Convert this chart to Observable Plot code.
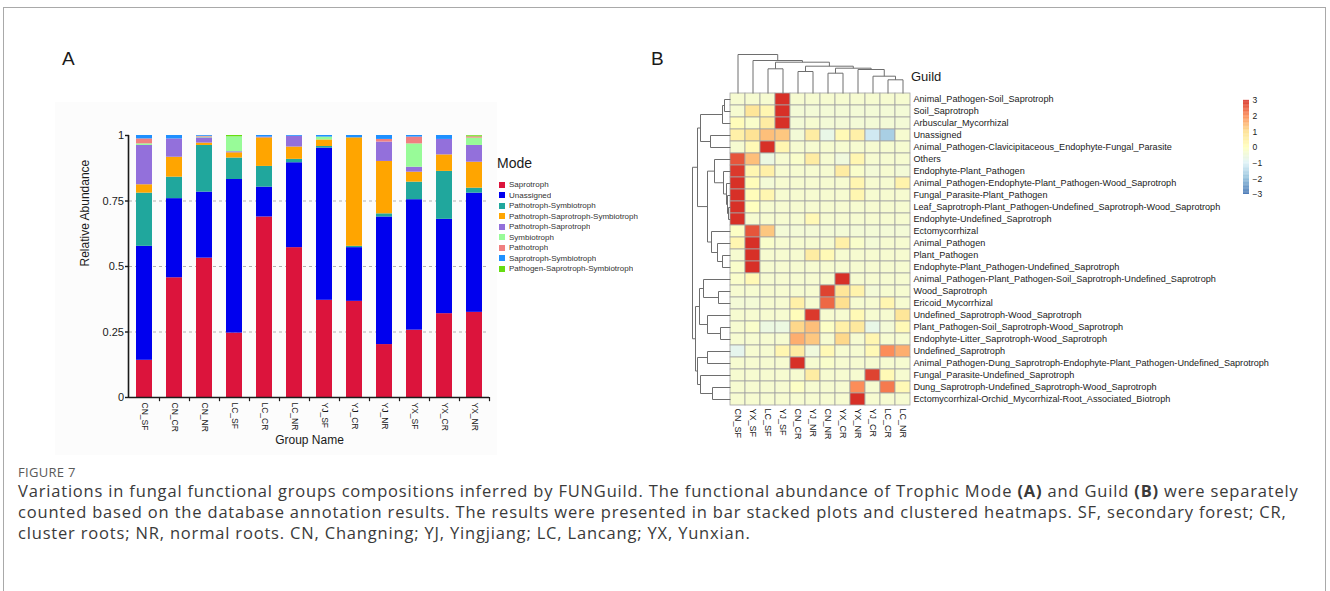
<!DOCTYPE html>
<html>
<head>
<meta charset="utf-8">
<script src="https://cdn.jsdelivr.net/npm/d3@7"></script>
<script src="https://cdn.jsdelivr.net/npm/@observablehq/plot@0.6"></script>
<style>
  body { margin: 0; background: #fff; }
  #root { position: relative; width: 1330px; height: 591px; overflow: hidden; font-family: "Liberation Sans", Arial, sans-serif; color: #1a1a1a; }
  .abs { position: absolute; }
  .box { left: 3px; top: 7px; width: 1323px; height: 700px; border: 1px solid #a9a9a9; box-sizing: border-box; }
  .panel { font-size: 19px; line-height: 1; }
  .figlabel { left: 18px; top: 463px; font-family: "Open Sans", sans-serif; font-size: 13px; color: #5a5a5a; letter-spacing: 0.3px; }
  .caption { left: 18px; top: 480px; width: 1310px; font-family: "Open Sans", sans-serif; font-size: 16.5px; letter-spacing: 0.82px; line-height: 21px; color: #3a3a3a; white-space: nowrap; }
</style>
</head>
<body>
<div id="root">
  <div class="abs box"></div>
  <div class="abs panel" style="left:62px;top:49px;">A</div>
  <div class="abs panel" style="left:651px;top:49px;">B</div>
  <div class="abs" style="left:497px;top:155px;font-size:14px;">Mode</div>
  <div class="abs" style="left:911px;top:69px;font-size:13px;">Guild</div>
  <div class="abs figlabel">FIGURE 7</div>
  <div class="abs caption">Variations in fungal functional groups compositions inferred by FUNGuild. The functional abundance of Trophic Mode <b>(A)</b> and Guild <b>(B)</b> were separately<br>counted based on the database annotation results. The results were presented in bar stacked plots and clustered heatmaps. SF, secondary forest; CR,<br>cluster roots; NR, normal roots. CN, Changning; YJ, Yingjiang; LC, Lancang; YX, Yunxian.</div>
</div>
<script>
// ---------------- Panel A data ----------------
const groups = ["CN_SF","CN_CR","CN_NR","LC_SF","LC_CR","LC_NR","YJ_SF","YJ_CR","YJ_NR","YX_SF","YX_CR","YX_NR"];
const modes = ["Saprotroph","Unassigned","Pathotroph-Symbiotroph","Pathotroph-Saprotroph-Symbiotroph","Pathotroph-Saprotroph","Symbiotroph","Pathotroph","Saprotroph-Symbiotroph","Pathogen-Saprotroph-Symbiotroph"];
const modeColors = ["#dc143c","#0000ee","#20a79d","#ffa500","#9370db","#98fb98","#f08080","#1e90ff","#66dd11"];
const saprotroph          = [0.142,0.457,0.532,0.246,0.689,0.572,0.371,0.367,0.202,0.257,0.320,0.325];
const unassigned          = [0.435,0.302,0.252,0.586,0.114,0.324,0.581,0.205,0.487,0.498,0.360,0.455];
const pathoSymbio         = [0.203,0.082,0.178,0.082,0.079,0.013,0.006,0.005,0.012,0.067,0.183,0.019];
const pathoSaproSymbio    = [0.032,0.076,0.009,0.020,0.109,0.047,0.025,0.414,0.200,0.038,0.063,0.099];
const pathoSapro          = [0.150,0.070,0.020,0.004,0.003,0.041,0.000,0.000,0.074,0.019,0.059,0.064];
const symbiotroph         = [0.006,0.000,0.003,0.057,0.000,0.000,0.011,0.000,0.000,0.089,0.000,0.028];
const pathotroph          = [0.019,0.000,0.003,0.000,0.000,0.000,0.000,0.000,0.010,0.026,0.000,0.005];
const saproSymbio         = [0.013,0.013,0.003,0.000,0.006,0.003,0.006,0.009,0.015,0.006,0.015,0.000];
const pathogenSaproSymbio = [0.000,0.000,0.000,0.005,0.000,0.000,0.000,0.000,0.000,0.000,0.000,0.004];
const yTicks = [0, 0.25, 0.5, 0.75, 1];

// ---------------- Panel B data ----------------
const sampleCols = ["CN_SF","YX_SF","LC_SF","YJ_SF","CN_CR","YJ_NR","CN_NR","YX_CR","YX_NR","YJ_CR","LC_CR","LC_NR"];
const guildRows = [
  "Animal_Pathogen-Soil_Saprotroph",
  "Soil_Saprotroph",
  "Arbuscular_Mycorrhizal",
  "Unassigned",
  "Animal_Pathogen-Clavicipitaceous_Endophyte-Fungal_Parasite",
  "Others",
  "Endophyte-Plant_Pathogen",
  "Animal_Pathogen-Endophyte-Plant_Pathogen-Wood_Saprotroph",
  "Fungal_Parasite-Plant_Pathogen",
  "Leaf_Saprotroph-Plant_Pathogen-Undefined_Saprotroph-Wood_Saprotroph",
  "Endophyte-Undefined_Saprotroph",
  "Ectomycorrhizal",
  "Animal_Pathogen",
  "Plant_Pathogen",
  "Endophyte-Plant_Pathogen-Undefined_Saprotroph",
  "Animal_Pathogen-Plant_Pathogen-Soil_Saprotroph-Undefined_Saprotroph",
  "Wood_Saprotroph",
  "Ericoid_Mycorrhizal",
  "Undefined_Saprotroph-Wood_Saprotroph",
  "Plant_Pathogen-Soil_Saprotroph-Wood_Saprotroph",
  "Endophyte-Litter_Saprotroph-Wood_Saprotroph",
  "Undefined_Saprotroph",
  "Animal_Pathogen-Dung_Saprotroph-Endophyte-Plant_Pathogen-Undefined_Saprotroph",
  "Fungal_Parasite-Undefined_Saprotroph",
  "Dung_Saprotroph-Undefined_Saprotroph-Wood_Saprotroph",
  "Ectomycorrhizal-Orchid_Mycorrhizal-Root_Associated_Biotroph"
];
// row z-scores, one row per guild, columns in sampleCols order
const zScores = [
  [-0.3,-0.3,-0.3, 3.2,-0.3,-0.3,-0.3,-0.3,-0.3,-0.3,-0.3,-0.3],
  [-0.3, 0.8, 0.3, 3.0,-0.4,-0.4,-0.4,-0.4,-0.4,-0.4,-0.4,-0.4],
  [ 0.1,-0.2, 0.6, 3.0,-0.4,-0.3,-0.4,-0.4,-0.4,-0.4,-0.4,-0.4],
  [ 0.5, 0.9, 1.4, 1.3,-0.4, 0.6,-0.7, 0.2, 0.5,-1.2,-1.7,-0.3],
  [-0.3, 0.2, 3.2, 0.3,-0.3,-0.3,-0.3,-0.3,-0.3,-0.3,-0.3,-0.3],
  [ 2.6, 1.4,-0.6,-0.3,-0.2, 0.6,-0.3,-0.5, 0.3,-0.3,-0.3,-0.3],
  [ 2.9, 0.3, 0.5,-0.3,-0.3,-0.3,-0.3, 0.6,-0.2,-0.4,-0.3,-0.4],
  [ 3.1, 0.1,-0.4,-0.3,-0.3,-0.3,-0.3,-0.3, 0.3,-0.3,-0.3, 0.4],
  [ 3.1, 0.1, 0.3,-0.3,-0.3,-0.3,-0.3,-0.3, 0.3,-0.3,-0.3,-0.3],
  [ 3.2, 0.0,-0.3,-0.3,-0.3,-0.3,-0.3,-0.3,-0.3,-0.3,-0.3,-0.3],
  [ 3.2,-0.3,-0.3,-0.3,-0.3, 0.2,-0.3,-0.3,-0.3,-0.3,-0.3,-0.3],
  [-0.1, 2.6, 1.3,-0.4,-0.4,-0.4,-0.4,-0.4,-0.4,-0.4,-0.4,-0.4],
  [ 0.3, 3.1,-0.2,-0.3,-0.3,-0.3,-0.3, 0.5,-0.2,-0.4,-0.3,-0.3],
  [-0.3, 3.0,-0.3,-0.3,-0.3, 0.6, 0.2,-0.3,-0.3,-0.3,-0.3,-0.3],
  [-0.2, 3.1,-0.3,-0.3,-0.3,-0.3,-0.3,-0.3,-0.3,-0.3,-0.3,-0.3],
  [-0.2, 0.2,-0.3,-0.3,-0.3,-0.3,-0.3, 3.2,-0.3,-0.3,-0.3,-0.3],
  [-0.3,-0.3,-0.3,-0.3,-0.3,-0.3, 2.8, 0.8, 0.4,-0.4,-0.3,-0.3],
  [-0.4,-0.4,-0.3,-0.3, 0.5,-0.3, 2.4, 1.0,-0.3,-0.3, 0.3,-0.3],
  [-0.3,-0.3,-0.3,-0.3, 0.1, 2.9,-0.3,-0.3, 0.2,-0.3,-0.3, 0.8],
  [-0.3,-0.2,-0.6,-0.6, 1.1, 1.4,-0.1, 0.5, 0.7,-0.7,-0.4, 0.2],
  [-0.3,-0.3,-0.3,-0.3, 1.6, 1.3,-0.3, 1.1,-0.3, 0.3,-0.3,-0.3],
  [-0.8,-0.3,-0.3, 0.3, 0.6,-0.5, 0.2,-0.3,-0.3, 0.2, 2.0, 1.6],
  [-0.3,-0.3,-0.3,-0.3, 3.2,-0.3,-0.2,-0.3,-0.3,-0.3,-0.3,-0.3],
  [-0.3,-0.3,-0.3,-0.3,-0.3, 0.6,-0.3,-0.3,-0.3, 2.8, 0.2,-0.3],
  [-0.3,-0.3,-0.3,-0.3,-0.1,-0.3,-0.3,-0.3, 2.0,-0.3, 2.2, 0.2],
  [-0.3,-0.3,-0.3,-0.3,-0.3,-0.3,-0.3,-0.3, 3.3,-0.3,-0.3,-0.3]
];
// hclust-style merges: negative = leaf (-(index+1)), positive = earlier merge (1-based)
const colMergeA = [-11, -10,  -7,  -9,   4, -5,  6,  -3, 8,  -2,  -1];
const colMergeB = [-12,   1,  -8,   2,   3, -6,  5,  -4, 7,   9,  10];
const colMergeH = [13.7, 17.3, 20.3, 24, 25.3, 22, 27.3, 24.7, 31.3, 33, 39];
const rowMergeA = [-1, 1, -4, 2, -10, -9, -8, -7, -6, -14, -13, -12,  9,  4, -17, -16, -20, -19, 16, -22, -25, -24, 20, 19, 14];
const rowMergeB = [-2,-3, -5, 3, -11,  5,  6,  7,  8, -15,  10,  11, 12, 13, -18,  15, -21,  17, 18, -23, -26,  21, 22, 23, 24];
const rowMergeH = [ 6, 8, 20,30,   2,  3,  4,  7, 16,   8,  13,  19, 23, 33,  12,  27,  10,  23, 31,  23,  18,  30, 33, 35, 38];
const heatColors = ["#4575b4","#91bfdb","#e0f3f8","#ffffbf","#fee090","#fc8d59","#d73027"];
const heatBreaks = [-3,-2,-1,0,1,2,3];

// ---------------- helpers ----------------
const font = "Liberation Sans, Arial, sans-serif";
function place(node, left, top) {
  node.style.position = "absolute";
  node.style.left = left + "px";
  node.style.top = top + "px";
  document.getElementById("root").appendChild(node);
}
function dendroSegments(A, B, H) {
  const pos = [], ht = [], segs = [];
  const get = (k) => k < 0 ? [-k - 1 + 0.5, 0] : [pos[k - 1], ht[k - 1]];
  A.forEach((a, i) => {
    const [pa, ha] = get(a), [pb, hb] = get(B[i]), h = H[i];
    segs.push({p1: pa, h1: ha, p2: pa, h2: h});
    segs.push({p1: pb, h1: hb, p2: pb, h2: h});
    segs.push({p1: pa, h1: h, p2: pb, h2: h});
    pos.push((pa + pb) / 2); ht.push(h);
  });
  return segs;
}
const minusFormat = (d) => d < 0 ? "\u2212" + (-d) : String(d);

// ---------------- Panel A ----------------
const modeSeries = [saprotroph, unassigned, pathoSymbio, pathoSaproSymbio, pathoSapro, symbiotroph, pathotroph, saproSymbio, pathogenSaproSymbio];
const barData = [];
groups.forEach((g, gi) => modes.forEach((m, mi) => barData.push({group: g, mode: m, value: modeSeries[mi][gi]})));

const plotA = Plot.plot({
  width: 442, height: 353,
  marginLeft: 74, marginRight: 8, marginTop: 33, marginBottom: 58,
  style: {background: "#fcfcfc", fontFamily: font, color: "#1a1a1a"},
  x: {domain: groups, paddingInner: 0.47, paddingOuter: 0.235, label: null},
  y: {domain: [0, 1], label: null},
  color: {domain: modes, range: modeColors},
  marks: [
    Plot.ruleY([0.25, 0.5, 0.75], {stroke: "#b0b0b0", strokeDasharray: "3,3", strokeWidth: 1}),
    Plot.barY(barData, {x: "group", y: "value", fill: "mode"}),
    Plot.ruleY([0], {stroke: "#1a1a1a", strokeWidth: 1.6}),
    Plot.ruleX([groups[0]], {y1: 0, y2: 1, dx: -16, stroke: "#1a1a1a", strokeWidth: 1.6}),
    Plot.ruleX(groups, {y1: 0, y2: -0.016, dx: 15, stroke: "#1a1a1a", strokeWidth: 1.2}),
    Plot.axisY({ticks: yTicks, tickFormat: (d) => String(d), tickSize: 4, tickPadding: 1.5, fontSize: 11, label: null, strokeWidth: 1.4}),
    Plot.axisX({tickSize: 0, tickPadding: 5, tickRotate: 90, fontSize: 8.5, label: null}),
    Plot.text(["Relative Abundance"], {frameAnchor: "left", rotate: -90, dx: -44, fontSize: 12}),
    Plot.text(["Group Name"], {frameAnchor: "bottom", dy: 46, fontSize: 12})
  ]
});
place(plotA, 55, 102);

const legendA = Plot.legend({
  legend: "swatches",
  color: {domain: modes, range: modeColors},
  columns: 1,
  swatchSize: 6,
  style: {fontSize: "8px", lineHeight: "9.5px", fontFamily: font, color: "#333", width: "200px", margin: "0"}
});
place(legendA, 499, 180);

// ---------------- Panel B ----------------
const heatData = [];
guildRows.forEach((g, ri) => sampleCols.forEach((s, ci) => heatData.push({guild: g, sample: s, z: zScores[ri][ci]})));
const colorScale = {type: "linear", domain: heatBreaks, range: heatColors, clamp: true};

const heat = Plot.plot({
  width: 564, height: 358,
  marginLeft: 4, marginTop: 4, marginRight: 380, marginBottom: 42,
  style: {background: "transparent", fontFamily: font, color: "#1a1a1a"},
  x: {domain: sampleCols, padding: 0, label: null},
  y: {domain: guildRows, padding: 0, label: null},
  color: colorScale,
  marks: [
    Plot.cell(heatData, {x: "sample", y: "guild", fill: "z", stroke: "#a3a3a3", strokeWidth: 0.8, inset: 0}),
    Plot.axisY({anchor: "right", tickSize: 0, tickPadding: 3, fontSize: 9.1, label: null}),
    Plot.axisX({anchor: "bottom", tickSize: 0, tickPadding: 3, tickRotate: 90, fontSize: 9, label: null})
  ]
});
place(heat, 726, 89);

const colDendro = Plot.plot({
  width: 188, height: 47, marginLeft: 4, marginRight: 4, marginTop: 4, marginBottom: 4,
  style: {background: "transparent"},
  x: {domain: [0, sampleCols.length], axis: null},
  y: {domain: [0, d3.max(colMergeH)], axis: null},
  marks: [
    Plot.link(dendroSegments(colMergeA, colMergeB, colMergeH), {x1: "p1", y1: "h1", x2: "p2", y2: "h2", stroke: "#6e6e6e", strokeWidth: 1})
  ]
});
place(colDendro, 726, 50);

const rowDendro = Plot.plot({
  width: 46, height: 320, marginLeft: 4, marginRight: 4, marginTop: 4, marginBottom: 4,
  style: {background: "transparent"},
  x: {domain: [0, d3.max(rowMergeH)], reverse: true, axis: null},
  y: {domain: [0, guildRows.length], reverse: true, axis: null},
  marks: [
    Plot.link(dendroSegments(rowMergeA, rowMergeB, rowMergeH), {x1: "h1", y1: "p1", x2: "h2", y2: "p2", stroke: "#6e6e6e", strokeWidth: 1})
  ]
});
place(rowDendro, 688, 89);

const cbStep = 0.05;
const cbSlices = d3.range(heatBreaks[0], heatBreaks[heatBreaks.length - 1], cbStep);
const colorBar = Plot.plot({
  width: 40, height: 104, marginLeft: 5, marginRight: 29, marginTop: 5, marginBottom: 5,
  style: {background: "transparent", fontFamily: font, color: "#1a1a1a"},
  x: {domain: [0, 1], axis: null},
  y: {domain: [heatBreaks[0], heatBreaks[heatBreaks.length - 1]], label: null},
  color: colorScale,
  marks: [
    Plot.rect(cbSlices, {x1: 0, x2: 1, y1: (d) => d, y2: (d) => d + cbStep + 0.01, fill: (d) => d + cbStep / 2}),
    Plot.axisY({anchor: "right", ticks: heatBreaks, tickFormat: minusFormat, tickSize: 0, tickPadding: 3, fontSize: 8.5, label: null})
  ]
});
place(colorBar, 1238, 95);
</script>
</body>
</html>
